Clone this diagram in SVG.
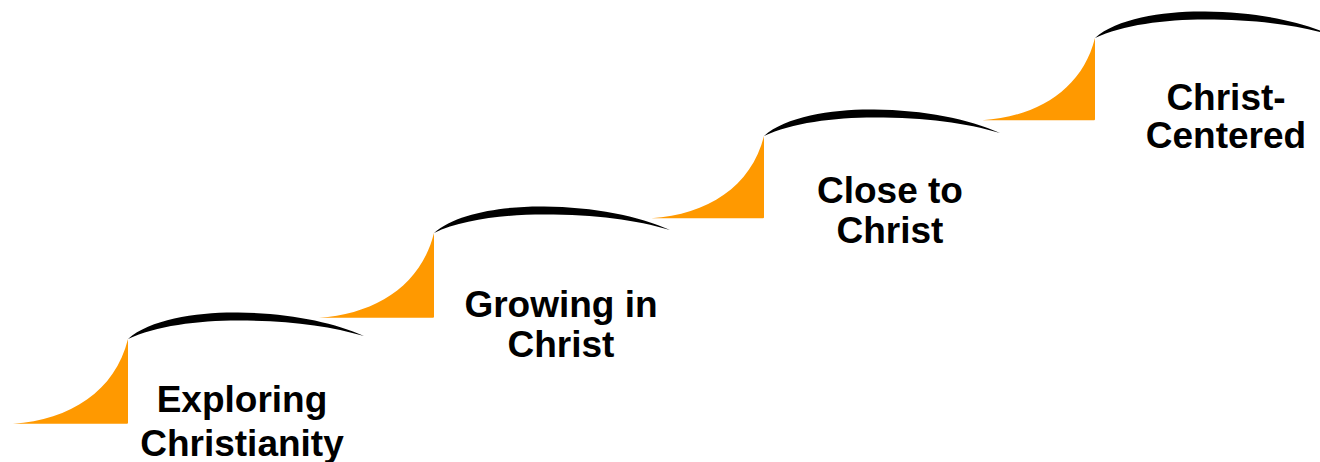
<svg xmlns="http://www.w3.org/2000/svg" xmlns:xlink="http://www.w3.org/1999/xlink" width="1320" height="462" viewBox="0 0 1320 462">
<style>
.lbl{font-family:"Liberation Sans",Arial,sans-serif;font-weight:bold;font-size:37px;fill:#000;text-anchor:middle}
.riser{fill:#FF9900}
.tread{fill:#000}
</style>
<defs>
<path id="riser" class="riser" d="M-115,84 C-58,80 -13,52 0,0 L0,83 Q0,84 -1,84 Z"/>
<path id="tread" class="tread" d="M0,0 C22,-20 70,-27 110,-26.5 C160,-26 205,-17 236,-3 C202,-13 162,-18.5 110,-18.5 C70,-18.5 27,-13 0,0 Z"/>
</defs>
<rect width="1320" height="462" fill="#fff"/>
<g id="step1">
<use xlink:href="#riser" href="#riser" transform="translate(128,339) scale(1,1.01)"/>
<use xlink:href="#tread" href="#tread" transform="translate(128,339)"/>
<text class="lbl" x="242" y="412">Exploring</text>
<text class="lbl" x="242" y="456">Christianity</text>
</g>
<g id="step2">
<use xlink:href="#riser" href="#riser" transform="translate(434,233) scale(1,1.01)"/>
<use xlink:href="#tread" href="#tread" transform="translate(434,233)"/>
<text class="lbl" x="561" y="317">Growing in</text>
<text class="lbl" x="561" y="357">Christ</text>
</g>
<g id="step3">
<use xlink:href="#riser" href="#riser" transform="translate(764,136) scale(0.98,0.98)"/>
<use xlink:href="#tread" href="#tread" transform="translate(764,136)"/>
<text class="lbl" x="890" y="203">Close to</text>
<text class="lbl" x="890" y="243">Christ</text>
</g>
<g id="step4">
<use xlink:href="#riser" href="#riser" transform="translate(1095,38) scale(0.98,0.98)"/>
<use xlink:href="#tread" href="#tread" transform="translate(1095,38)"/>
<text class="lbl" x="1226" y="110">Christ-</text>
<text class="lbl" x="1226" y="148">Centered</text>
</g>
<g id="connectors"/>
</svg>
